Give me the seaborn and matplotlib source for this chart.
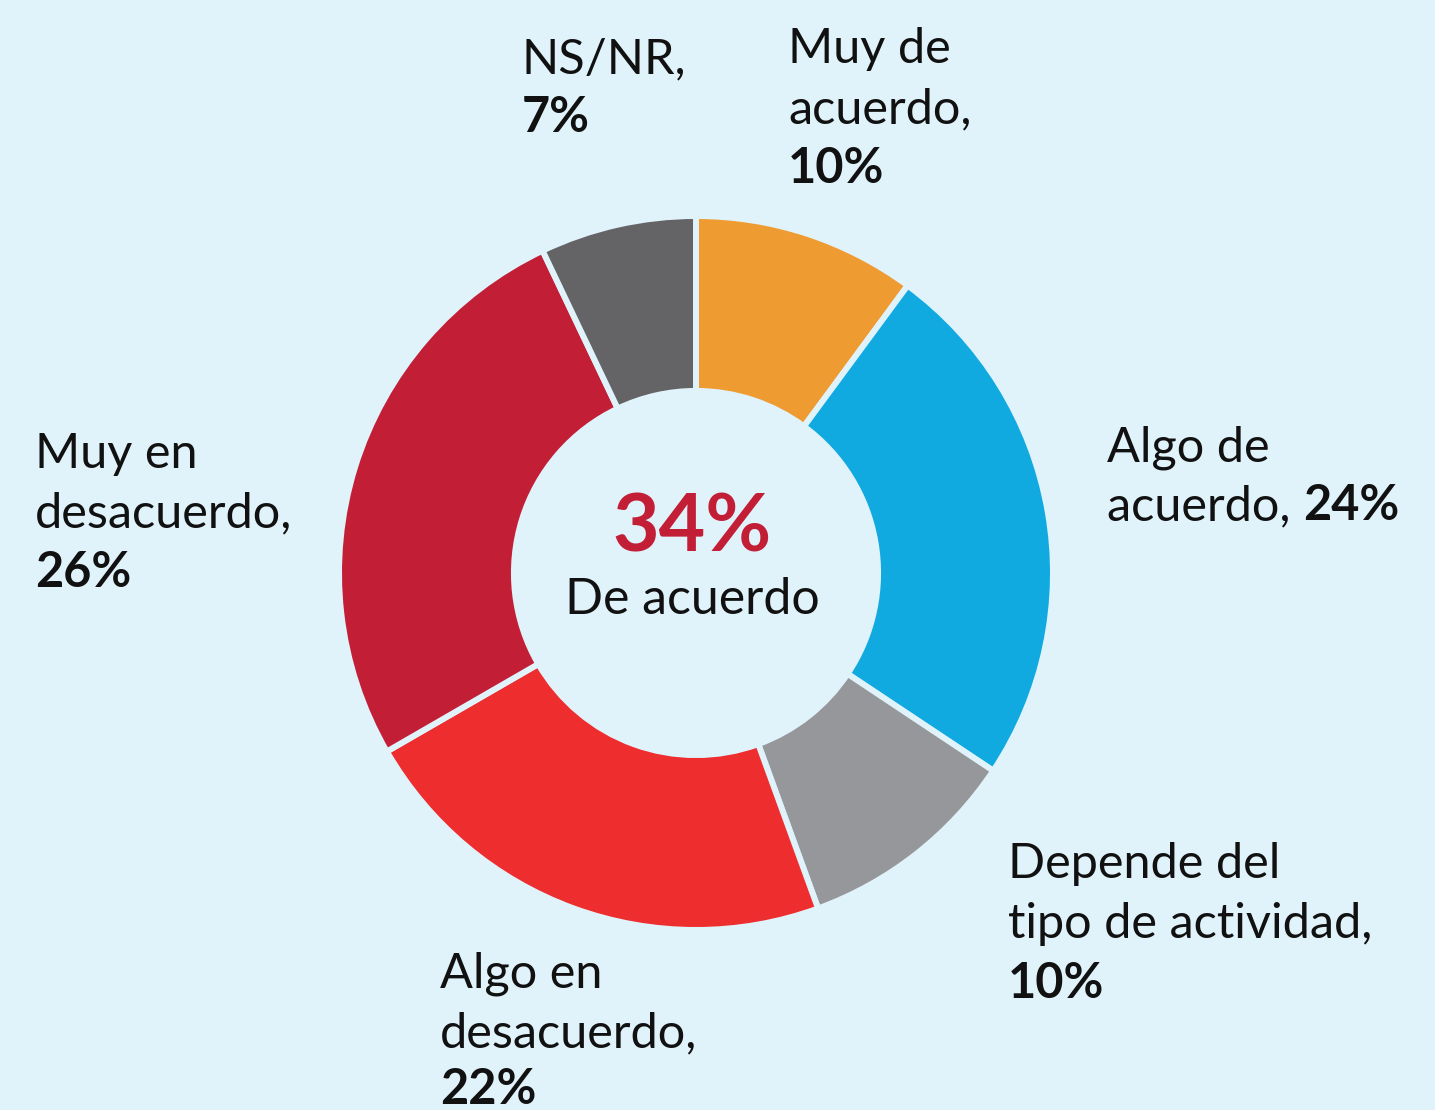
import matplotlib
matplotlib.use("Agg")
import matplotlib.pyplot as plt
import seaborn as sns

# Survey answers, clockwise from the top
categories = ["Muy de acuerdo", "Algo de acuerdo", "Depende del tipo de actividad",
              "Algo en desacuerdo", "Muy en desacuerdo", "NS/NR"]
values = [10, 24, 10, 22, 26, 7]
colors = ["#EE9B31", "#10AAE1", "#96979A", "#EE2E2E", "#C21F37", "#646466"]
center_value = "34%"
center_label = "De acuerdo"

BG = "#E0F2FA"

sns.set_theme(style="white")
plt.rcParams["font.family"] = ["Lato", "DejaVu Sans"]

W, H = 1435, 1110
fig = plt.figure(figsize=(W / 100, H / 100), dpi=100, facecolor=BG)

cx, cy, R = 696, 573, 357
ax = fig.add_axes([(cx - R) / W, (H - cy - R) / H, 2 * R / W, 2 * R / H])
ax.set_facecolor(BG)
ax.pie(values, colors=colors, startangle=90, counterclock=False, radius=1.0,
       wedgeprops=dict(width=0.49, edgecolor=BG, linewidth=4.3))
ax.set_xlim(-1, 1)
ax.set_ylim(-1, 1)
ax.set_aspect("equal")
ax.axis("off")

ax.text(-0.01, 0.06, center_value, ha="center", va="baseline", fontsize=58,
        fontweight="bold", color="#C21F37")
ax.text(-0.01, -0.115, center_label, ha="center", va="baseline", fontsize=36,
        color="#111111")

FS = 35
renderer = fig.canvas.get_renderer()


def px(x, y):
    return x / W, 1 - y / H


def label(x, baselines, lines, pct, pct_inline=False):
    """Draw a multi-line label; the percentage is bold, either on its own
    line or right after the last text line."""
    for y, line in zip(baselines, lines):
        t = fig.text(*px(x, y), line, fontsize=FS, ha="left", va="baseline",
                     color="#111111")
    if pct_inline:
        bb = t.get_window_extent(renderer=renderer)
        fig.text(bb.x1 / W, 1 - baselines[len(lines) - 1] / H, pct, fontsize=FS,
                 fontweight="bold", ha="left", va="baseline", color="#111111")
    else:
        fig.text(*px(x, baselines[len(lines)]), pct, fontsize=FS,
                 fontweight="bold", ha="left", va="baseline", color="#111111")


pcts = [f"{v}%" for v in values]
label(788, [63, 123, 183], ["Muy de", "acuerdo,"], pcts[0])
label(1107, [462, 520], ["Algo de", "acuerdo, "], pcts[1], pct_inline=True)
label(1008, [878, 938, 998], ["Depende del", "tipo de actividad,"], pcts[2])
label(440, [987, 1047, 1104], ["Algo en", "desacuerdo,"], pcts[3])
label(35, [468, 527, 587], ["Muy en", "desacuerdo,"], pcts[4])
label(522, [73, 132], ["NS/NR,"], pcts[5])

fig.savefig("out.png", dpi=100, facecolor=BG)
